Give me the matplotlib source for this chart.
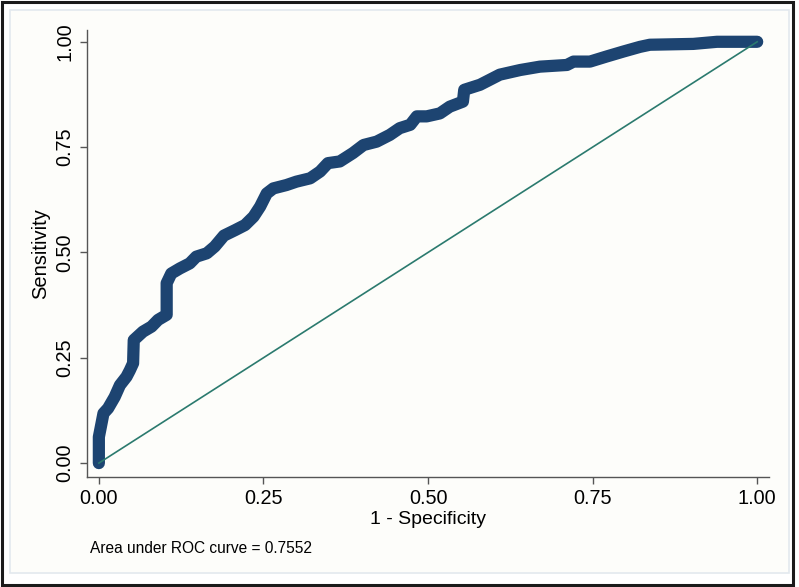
import matplotlib.pyplot as plt
from matplotlib.patches import Rectangle

# ROC curve: 1 - specificity vs sensitivity
fpr = [0.0, 0.0, 0.007, 0.014, 0.024, 0.032, 0.042, 0.047, 0.052, 0.053,
       0.067, 0.080, 0.090, 0.103, 0.103, 0.110, 0.123, 0.138, 0.148, 0.164,
       0.176, 0.190, 0.207, 0.222, 0.235, 0.245, 0.255, 0.265, 0.285, 0.300,
       0.321, 0.336, 0.348, 0.366, 0.386, 0.402, 0.422, 0.442, 0.457, 0.473,
       0.483, 0.498, 0.518, 0.533, 0.553, 0.555, 0.579, 0.609, 0.640, 0.670,
       0.711, 0.721, 0.746, 0.771, 0.797, 0.822, 0.837, 0.903, 0.939, 1.0]
tpr = [0.0, 0.062, 0.118, 0.130, 0.157, 0.185, 0.205, 0.220, 0.237, 0.292,
       0.312, 0.324, 0.340, 0.352, 0.427, 0.450, 0.462, 0.474, 0.490, 0.498,
       0.514, 0.540, 0.553, 0.565, 0.585, 0.609, 0.640, 0.652, 0.660, 0.668,
       0.676, 0.692, 0.712, 0.716, 0.736, 0.755, 0.763, 0.779, 0.795, 0.803,
       0.823, 0.823, 0.830, 0.846, 0.858, 0.886, 0.898, 0.922, 0.933, 0.941,
       0.945, 0.953, 0.953, 0.965, 0.977, 0.988, 0.993, 0.995, 1.0, 1.0]
ref_x = [0, 1]
ref_y = [0, 1]
auc_text = 'Area under ROC curve = 0.7552'

plt.rcParams['font.family'] = ['Liberation Sans', 'DejaVu Sans']

fig = plt.figure(figsize=(7.99, 5.87), dpi=100)
fig.patch.set_facecolor('white')
# outer frame and inner graph region
fig.patches.append(Rectangle((0.013, 0.024), 0.974, 0.959, transform=fig.transFigure,
                             facecolor='#fdfdfa', edgecolor='#e3e9ee', lw=1.2, zorder=-2))
fig.patches.append(Rectangle((0.002, 0.003), 0.990, 0.994, transform=fig.transFigure,
                             facecolor='none', edgecolor='#1a1a1a', lw=2.2, zorder=-1))

ax = fig.add_axes([0.1089, 0.1874, 0.8536, 0.7615])
ax.set_zorder(2)
ax.set_facecolor('#fdfdfa')
ax.plot(fpr, tpr, color='#1d4471', lw=8.8, solid_capstyle='round',
        solid_joinstyle='round', zorder=2)
ax.plot(ref_x, ref_y, color='#2b7a6e', lw=1.2, zorder=3)

ax.set_xlim(-0.018, 1.018)
ax.set_ylim(-0.033, 1.028)
ax.set_xticks([0, 0.25, 0.5, 0.75, 1.0])
ax.set_yticks([0, 0.25, 0.5, 0.75, 1.0])
ax.set_xticklabels(['0.00', '0.25', '0.50', '0.75', '1.00'])
ax.set_yticklabels(['0.00', '0.25', '0.50', '0.75', '1.00'], rotation=90, va='center')
for s in ['top', 'right']:
    ax.spines[s].set_visible(False)
for s in ['left', 'bottom']:
    ax.spines[s].set_color('#555555')
    ax.spines[s].set_linewidth(1.0)
ax.tick_params(axis='both', colors='#555555', labelcolor='black', length=5,
               width=1.0, labelsize=14.3)
ax.tick_params(axis='x', pad=4)
ax.tick_params(axis='y', pad=4)
ax.set_xlabel('1 - Specificity', fontsize=14, labelpad=1.5)
ax.set_ylabel('Sensitivity', fontsize=14.5, labelpad=4)

fig.text(0.113, 0.066, auc_text, fontsize=11.2, va='center', ha='left')

fig.savefig('out.png', dpi=100)
